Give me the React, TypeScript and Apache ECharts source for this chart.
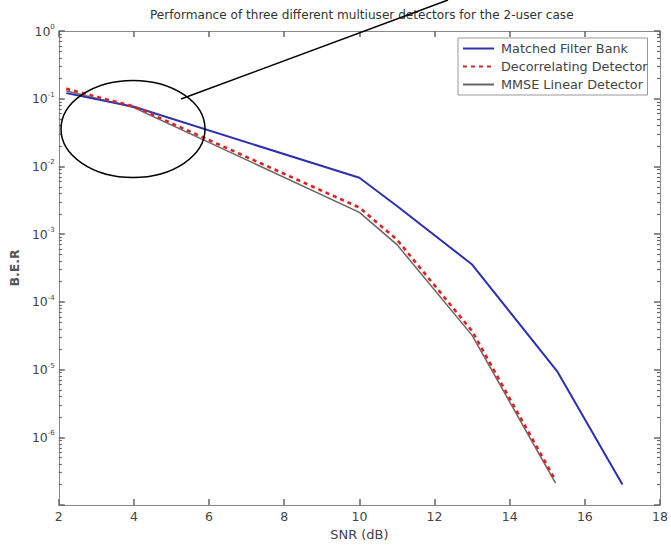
import React, { useEffect, useRef } from 'react';
import * as echarts from 'echarts';

// SNR (dB) sample points and bit error rates
const snrMatched = [2.2, 4, 10, 11, 13, 15.26, 17];
const berMatched = [0.121, 0.076, 0.0068, 0.0026, 0.000356, 0.0000095, 0.0000002];

const snrDecorr = [2.2, 4, 10, 11, 13, 15.22];
const berDecorr = [0.14, 0.077, 0.00247, 0.00083, 0.000037, 0.00000023];

const snrMmse = [2.2, 4, 10, 11, 13, 15.22];
const berMmse = [0.13, 0.074, 0.0021, 0.0007, 0.000032, 0.00000021];

const seriesNames = ['Matched Filter Bank', 'Decorrelating Detector', 'MMSE Linear Detector'];
const titleText = 'Performance of three different multiuser detectors for the 2-user case';
const xTickValues = [2, 4, 6, 8, 10, 12, 14, 16, 18];
const yDecadeExponents = [-7, -6, -5, -4, -3, -2, -1, 0];
const minorMultipliers = [2, 3, 4, 5, 6, 7, 8, 9];

export default function App() {
  const ref = useRef<HTMLDivElement>(null);

  useEffect(() => {
    document.body.style.margin = '0';
    const chart = echarts.init(ref.current!, null, { renderer: 'svg' });

    const toPts = (xs: number[], ys: number[]) => xs.map((x, i) => [x, Math.log10(ys[i])]);
    const minorVals: number[] = [];
    yDecadeExponents.slice(0, -1).forEach((d) => {
      minorMultipliers.forEach((m) => minorVals.push(d + Math.log10(m)));
    });

    const axisColor = '#8a8a8a';
    const tickColor = '#666';
    const labelColor = '#444';
    const tickFont = 'DejaVu Sans';
    const yMin = yDecadeExponents[0];
    const yMax = yDecadeExponents[yDecadeExponents.length - 1];

    const yBase: any = {
      type: 'value',
      min: yMin,
      max: yMax,
      interval: 1,
      splitLine: { show: false },
      axisLine: { show: false, onZero: false },
      axisLabel: { show: false },
    };
    const xBase: any = {
      type: 'value',
      min: xTickValues[0],
      max: xTickValues[xTickValues.length - 1],
      interval: 2,
      splitLine: { show: false },
    };
    const majorTick = () => ({ show: true, inside: true, length: 6, lineStyle: { color: tickColor, width: 1.5 } });
    const minorTick = () => ({ show: true, inside: true, length: 3, customValues: minorVals, lineStyle: { color: tickColor, width: 1.2 } });
    const boxLine = () => ({ show: true, onZero: false, lineStyle: { color: axisColor, width: 1 } });

    chart.setOption({
      animation: false,
      backgroundColor: '#fff',
      title: {
        text: titleText,
        left: 150,
        top: 9,
        padding: 0,
        textStyle: { fontFamily: 'DejaVu Sans', fontSize: 12.1, fontWeight: 'normal', color: '#333' },
      },
      grid: { left: 56, top: 31, right: 11, bottom: 40 },
      legend: {
        data: seriesNames,
        orient: 'vertical',
        left: 458,
        top: 38,
        padding: [4, 0, 4, 4],
        itemWidth: 31,
        itemHeight: 12,
        itemGap: 5,
        backgroundColor: '#fff',
        borderColor: '#999',
        borderWidth: 1,
        borderRadius: 0,
        itemStyle: { opacity: 0 },
        textStyle: { fontFamily: 'DejaVu Sans', fontSize: 12.8, color: '#444', padding: [0, 0, 0, 2] },
      },
      xAxis: [
        {
          ...xBase,
          position: 'bottom',
          axisLine: boxLine(),
          axisTick: majorTick(),
          axisLabel: { margin: 5, color: labelColor, fontFamily: tickFont, fontSize: 12.5 },
          name: 'SNR (dB)',
          nameLocation: 'middle',
          nameGap: 23,
          nameTextStyle: { fontFamily: tickFont, fontSize: 13, color: labelColor },
        },
        {
          ...xBase,
          position: 'top',
          axisLine: boxLine(),
          axisTick: majorTick(),
          axisLabel: { show: false },
        },
      ],
      yAxis: [
        {
          ...yBase,
          position: 'left',
          axisLine: boxLine(),
          axisTick: majorTick(),
          axisLabel: {
            show: true,
            margin: 4,
            formatter: (v: number) => (v === yMin ? '' : `{b|10}{s|${v}}`),
            rich: {
              b: { fontFamily: tickFont, fontSize: 12.5, color: labelColor },
              s: { fontFamily: tickFont, fontSize: 7, color: labelColor, padding: [0, 0, 8, 0] },
            },
          },
          name: 'B.E.R',
          nameLocation: 'middle',
          nameGap: 31,
          nameTextStyle: { fontFamily: tickFont, fontSize: 12.5, fontWeight: 'bold', color: '#555' },
        },
        { ...yBase, position: 'left', axisTick: minorTick() },
        { ...yBase, position: 'right', axisLine: boxLine(), axisTick: majorTick() },
        { ...yBase, position: 'right', axisTick: minorTick() },
      ],
      series: [
        {
          name: seriesNames[0],
          type: 'line',
          data: toPts(snrMatched, berMatched),
          symbol: 'none',
          lineStyle: { color: '#2d30a8', width: 2 },
          itemStyle: { color: '#2d30a8' },
          z: 3,
        },
        {
          name: seriesNames[2],
          type: 'line',
          data: toPts(snrMmse, berMmse),
          symbol: 'none',
          lineStyle: { color: '#666', width: 1.5 },
          itemStyle: { color: '#666' },
          z: 2,
        },
        {
          name: seriesNames[1],
          type: 'line',
          data: toPts(snrDecorr, berDecorr),
          symbol: 'none',
          lineStyle: {
            color: '#c8282c',
            width: 2.5,
            type: [4, 4],
            shadowColor: 'rgba(230,110,110,0.55)',
            shadowBlur: 3,
          },
          itemStyle: { color: '#c8282c' },
          z: 4,
        },
      ],
      graphic: [
        {
          type: 'ellipse',
          shape: { cx: 133, cy: 129, rx: 72, ry: 48.5 },
          style: { fill: 'none', stroke: '#000', lineWidth: 1.5 },
          z: 100,
        },
        {
          type: 'line',
          shape: { x1: 181, y1: 99, x2: 448, y2: 0 },
          style: { stroke: '#000', lineWidth: 1.5 },
          z: 100,
        },
      ],
    });

    return () => chart.dispose();
  }, []);

  return <div ref={ref} style={{ width: 671, height: 546 }} />;
}
